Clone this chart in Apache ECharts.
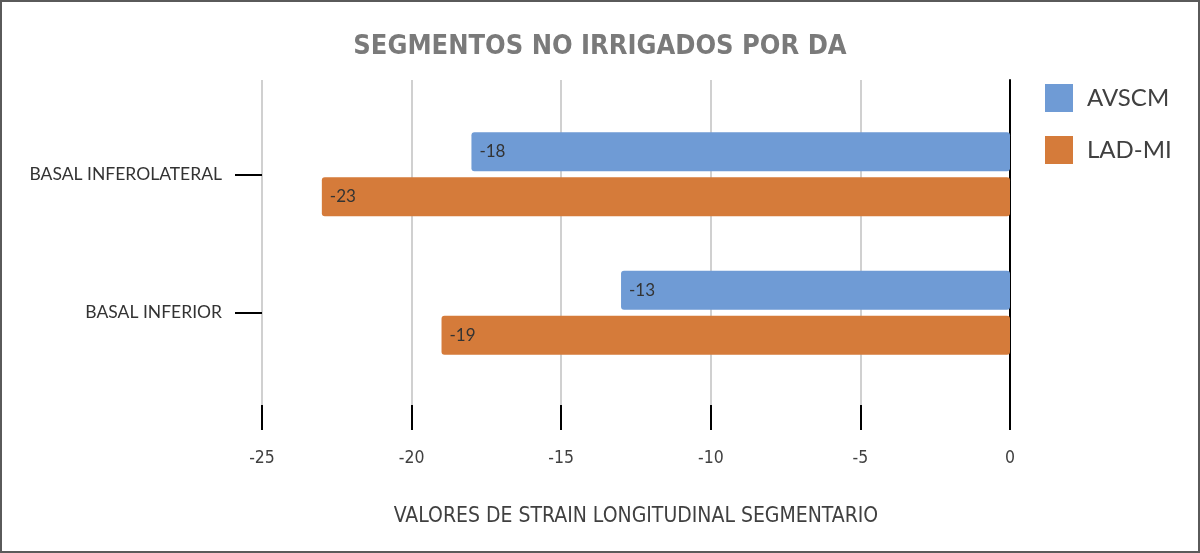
<!DOCTYPE html>
<html>
<head>
<meta charset="utf-8">
<script src="https://cdn.jsdelivr.net/npm/echarts@6/dist/echarts.min.js"></script>
<style>
  html, body { margin: 0; padding: 0; background: #fff; }
  #wrap { position: relative; width: 1200px; height: 553px; }
  #chart { width: 1200px; height: 553px; }
  #frame { position: absolute; left: 0; top: 0; width: 1200px; height: 553px;
           box-sizing: border-box; border: 2px solid #5a5a5a; pointer-events: none; }
</style>
</head>
<body>
<div id="wrap">
  <div id="chart"></div>
  <div id="frame"></div>
</div>
<script>
// 数据
const categories = ['BASAL INFEROLATERAL', 'BASAL INFERIOR'];
const avscm = [-18, -13];
const ladMi = [-23, -19];
const xTicks = { min: -25, max: 0, interval: 5 };

const chart = echarts.init(document.getElementById('chart'));

const baseFont = 'Lato, "Open Sans", sans-serif';
const narrowFont = '"DejaVu Sans Condensed", "Liberation Sans Narrow", sans-serif';

const option = {
  backgroundColor: '#fff',
  animation: false,
  title: {
    text: 'SEGMENTOS NO IRRIGADOS POR DA',
    left: 'center',
    top: 28,
    textStyle: { fontFamily: narrowFont, fontSize: 27, fontWeight: 'bold', color: '#7a7a7a' }
  },
  legend: {
    orient: 'vertical',
    left: 1040,
    top: 79,
    itemWidth: 28,
    itemHeight: 28,
    itemGap: 24,
    icon: 'rect',
    textStyle: { fontFamily: baseFont, fontSize: 24, color: '#404040', padding: [0, 0, 0, 9] },
    data: ['AVSCM', 'LAD-MI']
  },
  grid: [
    // 网格线和刻度
    { left: 262, right: 190, top: 80, bottom: 148 },
    // 柱状图区域
    { left: 262, right: 190, top: 105, bottom: 171 }
  ],
  xAxis: [
    {
      gridIndex: 0,
      type: 'value',
      min: xTicks.min,
      max: xTicks.max,
      interval: xTicks.interval,
      axisLine: { show: false },
      axisTick: { show: true, length: 25, lineStyle: { color: '#000', width: 2 } },
      splitLine: { show: true, lineStyle: { color: '#d0d0d0', width: 2 } },
      axisLabel: { margin: 44, fontFamily: narrowFont, fontSize: 17.5, color: '#404040' },
      name: 'VALORES DE STRAIN LONGITUDINAL SEGMENTARIO',
      nameLocation: 'middle',
      nameGap: 101,
      nameTextStyle: { fontFamily: narrowFont, fontSize: 21, color: '#404040' }
    },
    {
      gridIndex: 1,
      type: 'value',
      min: xTicks.min,
      max: xTicks.max,
      show: false
    }
  ],
  yAxis: [
    {
      gridIndex: 0,
      type: 'value',
      position: 'right',
      axisLine: { show: true, onZero: false, lineStyle: { color: '#000', width: 2 } },
      axisTick: { show: false },
      axisLabel: { show: false },
      splitLine: { show: false }
    },
    {
      gridIndex: 1,
      type: 'category',
      position: 'left',
      inverse: true,
      data: categories,
      axisLine: { show: false, onZero: false },
      axisTick: { show: true, alignWithLabel: true, length: 27, lineStyle: { color: '#000', width: 2 } },
      axisLabel: { margin: 40, fontFamily: baseFont, fontSize: 17.5, color: '#333' }
    }
  ],
  series: [
    {
      name: 'AVSCM',
      type: 'bar',
      xAxisIndex: 1,
      yAxisIndex: 1,
      data: avscm,
      barWidth: 39,
      barGap: '15%',
      itemStyle: { color: '#6f9bd5', borderRadius: 3 },
      label: { show: true, position: 'insideLeft', distance: 8, fontFamily: baseFont, fontSize: 17, color: '#333' }
    },
    {
      name: 'LAD-MI',
      type: 'bar',
      xAxisIndex: 1,
      yAxisIndex: 1,
      data: ladMi,
      barWidth: 39,
      barGap: '15%',
      itemStyle: { color: '#d57b3a', borderRadius: 3 },
      label: { show: true, position: 'insideLeft', distance: 8, fontFamily: baseFont, fontSize: 17, color: '#333' }
    }
  ]
};

chart.setOption(option);
</script>
</body>
</html>
